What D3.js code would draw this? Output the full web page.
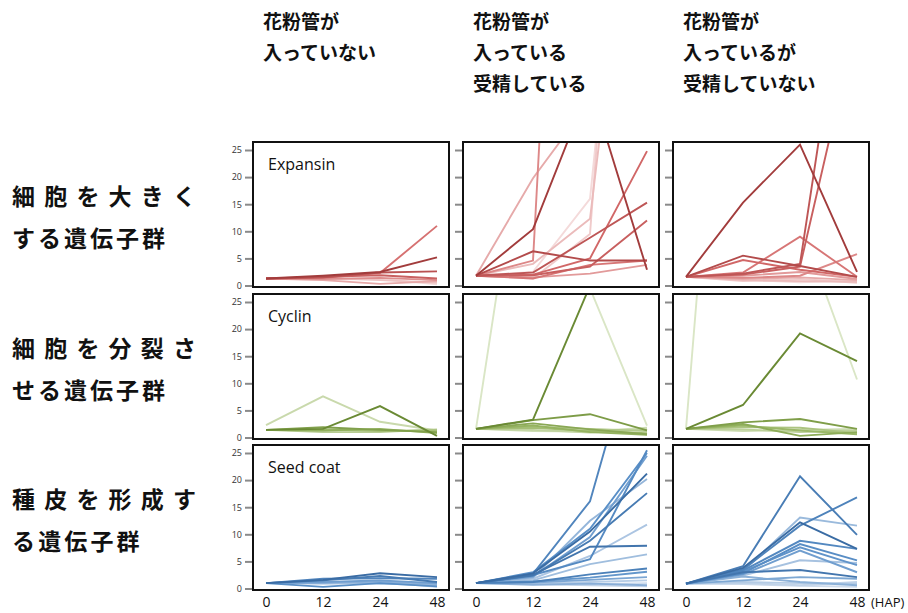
<!DOCTYPE html>
<html>
<head>
<meta charset="utf-8">
<script src="https://cdn.jsdelivr.net/npm/d3@7"></script>
<style>
  body { margin: 0; background: #fff; }
  .jp { font-family: "Noto Sans CJK JP", sans-serif; fill: #111; }
  .axis text { font-family: "Open Sans", "Noto Sans", sans-serif; }
</style>
</head>
<body>
<div id="chart"></div>
<script>
// time points (HAP)
var times = ["0", "12", "24", "48"];
var yTicks = [0, 5, 10, 15, 20, 25];
var geneGroups = ["Expansin", "Cyclin", "Seed coat"];
var colHeaders = [
  ["花粉管が", "入っていない"],
  ["花粉管が", "入っている", "受精している"],
  ["花粉管が", "入っているが", "受精していない"]
];
var rowLabels = [
  ["細胞を大きく", "する遺伝子群"],
  ["細胞を分裂さ", "せる遺伝子群"],
  ["種皮を形成す", "る遺伝子群"]
];

// each panel: one array per gene, ordered dark -> light
var expNoPT = [
  [1.3, 1.8, 2.5, 5.2], [1.3, 1.5, 2.4, 2.6], [1.3, 1.6, 1.9, 1.3],
  [1.3, 1.4, 2.3, 11.0], [1.3, 1.2, 1.4, 1.0], [1.3, 1.0, 0.3, 0.8],
  [1.3, 1.4, 1.0, 0.5], [1.3, 1.1, 1.2, 0.2]
];
var expPTFert = [
  [1.8, 10.4, 37, 2.9], [1.8, 6.3, 4.6, 4.6], [1.8, 2.4, 8.8, 15.3],
  [1.8, 1.9, 3.5, 12.0], [1.8, 2.0, 5.0, 24.8], [1.8, 1.3, 3.8, 4.6],
  [1.8, 4.6, 200, 60], [1.8, 1.5, 2.2, 3.8], [1.8, 19.8, 34, 30],
  [1.8, 4.0, 12.3, 100], [1.8, 1.3, 9.5, 150], [1.8, 2.5, 16.0, 120]
];
var expPTNoFert = [
  [1.6, 15.3, 26, 2.5], [1.6, 5.5, 3.6, 1.6], [1.6, 2.2, 4.0, 73],
  [1.6, 2.0, 3.5, 49], [1.6, 4.7, 2.9, 1.6], [1.6, 2.4, 9.0, 1.6],
  [1.6, 1.4, 1.8, 5.8], [1.6, 1.8, 2.5, 1.2], [1.6, 1.2, 1.5, 1.0],
  [1.6, 1.0, 0.8, 0.7], [1.6, 0.8, 1.2, 0.5], [1.6, 1.1, 0.6, 0.9]
];
var cycNoPT = [
  [1.4, 1.6, 5.8, 0.3], [1.4, 1.9, 1.4, 1.0], [1.4, 1.3, 1.6, 0.8],
  [1.4, 1.5, 1.2, 1.3], [1.4, 1.0, 1.0, 1.5], [2.3, 7.6, 2.9, 1.3],
  [1.4, 1.2, 1.3, 1.2]
];
var cycPTFert = [
  [1.6, 3.3, 28, 35], [1.6, 3.2, 4.3, 1.3], [1.6, 2.6, 1.5, 0.6],
  [1.6, 2.2, 1.0, 0.5], [1.6, 1.8, 1.2, 0.8], [1.6, 2.0, 1.6, 1.2],
  [1.6, 1.4, 0.9, 1.5], [1.6, 1.2, 1.1, 1.8], [1.6, 70, 27.5, 2.2]
];
var cycPTNoFert = [
  [1.6, 6.0, 19.2, 14.1], [1.6, 2.8, 3.4, 1.6], [1.6, 2.5, 0.3, 1.0],
  [1.6, 2.2, 1.3, 0.6], [1.6, 1.9, 1.8, 0.8], [1.6, 1.5, 1.0, 1.3],
  [1.6, 1.2, 1.4, 1.6], [1.6, 130, 39.5, 10.7]
];
var seedNoPT = [
  [1.0, 1.6, 2.8, 2.1], [1.0, 1.5, 2.3, 1.2], [1.0, 1.8, 1.9, 1.8],
  [1.0, 0.3, 1.0, 0.4], [1.0, 1.2, 1.5, 1.0], [1.0, 1.0, 1.3, 0.8],
  [1.0, 1.2, 0.9, 0.6], [1.0, 1.1, 1.2, 0.3], [1.0, 0.8, 1.0, 1.1]
];
var seedPTFert = [
  [1.0, 2.8, 10.5, 21.2], [1.0, 2.5, 7.7, 7.9], [1.0, 2.4, 8.8, 17.6],
  [1.0, 1.2, 2.6, 3.7], [1.0, 2.7, 16.1, 53], [1.0, 2.5, 5.4, 25.5],
  [1.0, 3.0, 11.0, 25.0], [1.0, 1.3, 2.0, 3.1], [1.0, 2.2, 9.5, 24.5],
  [1.0, 1.1, 1.6, 2.1], [1.0, 0.7, 0.9, 0.6], [1.0, 2.0, 12.5, 20.2],
  [1.0, 1.5, 4.5, 6.3], [1.0, 1.8, 6.0, 11.8], [1.0, 0.9, 1.2, 1.5],
  [1.0, 0.8, 0.6, 0.4], [1.0, 1.0, 0.8, 1.0]
];
var seedPTNoFert = [
  [0.9, 3.8, 12.2, 7.3], [0.9, 3.0, 3.4, 2.1], [0.9, 4.1, 20.7, 9.9],
  [0.9, 3.5, 11.6, 16.8], [0.9, 3.3, 8.8, 7.3], [0.9, 2.8, 8.2, 5.2],
  [0.9, 3.1, 7.6, 4.3], [0.9, 2.6, 7.0, 3.0], [0.9, 1.5, 2.1, 1.8],
  [0.9, 2.2, 1.2, 0.6], [0.9, 3.2, 13.1, 11.6], [0.9, 2.4, 5.2, 4.7],
  [0.9, 1.2, 1.0, 0.9], [0.9, 1.0, 0.6, 1.2], [0.9, 0.8, 0.5, 0.3]
];

var panels = [
  [expNoPT, expPTFert, expPTNoFert],
  [cycNoPT, cycPTFert, cycPTNoFert],
  [seedNoPT, seedPTFert, seedPTNoFert]
];

var palettes = [
  ["#a23c3c", "#d46a6a", "#f4dada"],
  ["#6a8a34", "#97b562", "#dae6c6"],
  ["#3a6ca4", "#5a90c8", "#cddbec"]
];

var WIDTH = 908, HEIGHT = 613;
var boxX = [253, 463, 673], boxY = [142, 294, 445],
    boxW = 196, boxH = 145;

var svg = d3.select("#chart").append("svg")
  .attr("width", WIDTH)
  .attr("height", HEIGHT);

// column headers
colHeaders.forEach(function(lines, c) {
  lines.forEach(function(t, i) {
    svg.append("text")
      .attr("class", "jp")
      .attr("x", boxX[c] + 10)
      .attr("y", 29 + i * 31)
      .style("font-size", "19px")
      .style("font-weight", "bold")
      .text(t);
  });
});

// row labels
rowLabels.forEach(function(lines, r) {
  var cy = boxY[r] + 55;
  svg.append("text")
    .attr("class", "jp")
    .attr("x", 12).attr("y", cy + 8)
    .attr("textLength", 184).attr("lengthAdjust", "spacing")
    .style("font-size", "23px").style("font-weight", "bold")
    .text(lines[0]);
  svg.append("text")
    .attr("class", "jp")
    .attr("x", 12).attr("y", cy + 50)
    .attr("textLength", lines[1].length * 25.5).attr("lengthAdjust", "spacing")
    .style("font-size", "23px").style("font-weight", "bold")
    .text(lines[1]);
});

panels.forEach(function(row, r) {
  row.forEach(function(series, c) {
    var x0 = boxX[c], y0 = boxY[r];
    var xScale = d3.scalePoint().domain(times).range([x0 + 13, x0 + 184]);
    var yScale = d3.scaleLinear().domain([0, 25]).range([y0 + boxH - 1.5, y0 + 8]);
    var shade = d3.scaleLinear().domain([0, 0.5, 1]).range(palettes[r]);

    var clipId = "clip" + r + c;
    svg.append("clipPath").attr("id", clipId)
      .append("rect")
      .attr("x", x0).attr("y", y0)
      .attr("width", boxW).attr("height", boxH);

    var lineFunc = d3.line()
      .x(function(d, i) { return xScale(times[i]); })
      .y(function(d) { return yScale(d); });

    var g = svg.append("g").attr("clip-path", "url(#" + clipId + ")");
    var n = series.length;
    // light first, dark on top
    series.slice().reverse().forEach(function(s, k) {
      var idx = n - 1 - k;
      var t = n > 1 ? Math.pow(idx / (n - 1), 0.75) : 0;
      g.append("path")
        .attr("d", lineFunc(s))
        .attr("fill", "none")
        .attr("stroke", shade(t))
        .attr("stroke-width", 1.9);
    });

    // y axis ticks
    var yAxis = d3.axisLeft(yScale).tickValues(yTicks).tickSize(7).tickPadding(3);
    if (c > 0) yAxis.tickFormat("");
    var ya = svg.append("g")
      .attr("class", "axis")
      .attr("transform", "translate(" + (x0 - 1) + ",0)")
      .call(yAxis);
    ya.select(".domain").remove();
    ya.selectAll("line").attr("stroke", "#8a8a8a").attr("stroke-width", 2);
    ya.selectAll("text").style("font-size", "9px").attr("fill", "#333");

    svg.append("rect")
      .attr("x", x0).attr("y", y0)
      .attr("width", boxW).attr("height", boxH)
      .attr("fill", "none")
      .attr("stroke", "#111")
      .attr("stroke-width", 2);

    if (c === 0) {
      svg.append("text")
        .attr("x", x0 + 15)
        .attr("y", y0 + 28)
        .style("font-family", "'Open Sans', 'Noto Sans', sans-serif")
        .style("font-size", "16px")
        .attr("fill", "#111")
        .text(geneGroups[r]);
    }

    if (r === 2) {
      var xa = svg.append("g")
        .attr("class", "axis")
        .attr("transform", "translate(0," + 597 + ")")
        .call(d3.axisBottom(xScale).tickSize(0).tickPadding(0));
      xa.select(".domain").remove();
      xa.selectAll("text").style("font-size", "14px").attr("fill", "#111");
      if (c === 2) {
        svg.append("text")
          .attr("x", xScale("48") + 14)
          .attr("y", 607)
          .style("font-family", "'Open Sans', 'Noto Sans', sans-serif")
          .style("font-size", "13px")
          .attr("fill", "#111")
          .text("(HAP)");
      }
    }
  });
});
</script>
</body>
</html>
